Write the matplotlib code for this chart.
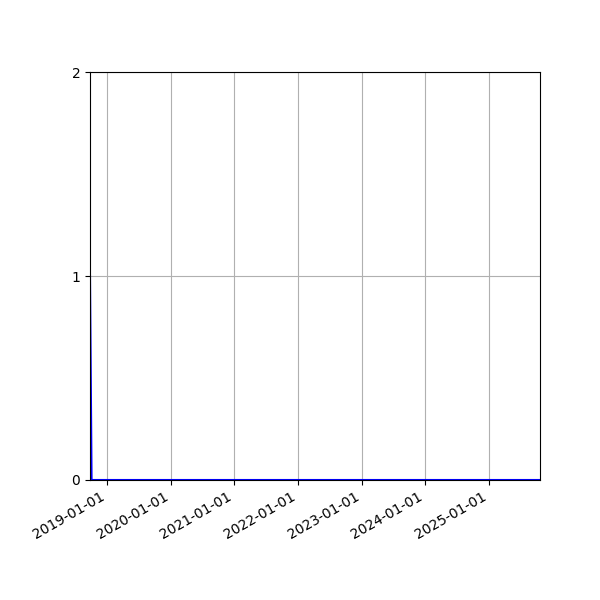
import matplotlib
matplotlib.use("Agg")
import matplotlib.pyplot as plt
import matplotlib.dates as mdates
import pandas as pd

# counts over time (first day has one event, then nothing)
dates = pd.to_datetime(["2018-09-26", "2018-10-05", "2025-10-20"])
counts = [1, 0, 0]

fig, ax = plt.subplots(figsize=(6, 6), dpi=100)
ax.plot(dates, counts, color="blue")
ax.set_xlim(dates[0], dates[-1])
ax.set_ylim(0, 2)
ax.set_yticks([0, 1, 2])
ax.xaxis.set_major_locator(mdates.YearLocator())
ax.xaxis.set_major_formatter(mdates.DateFormatter("%Y-%m-%d"))
ax.grid(True)
fig.autofmt_xdate()
fig.subplots_adjust(left=0.15, right=0.9, top=0.88, bottom=0.2)
fig.savefig("out.png")
